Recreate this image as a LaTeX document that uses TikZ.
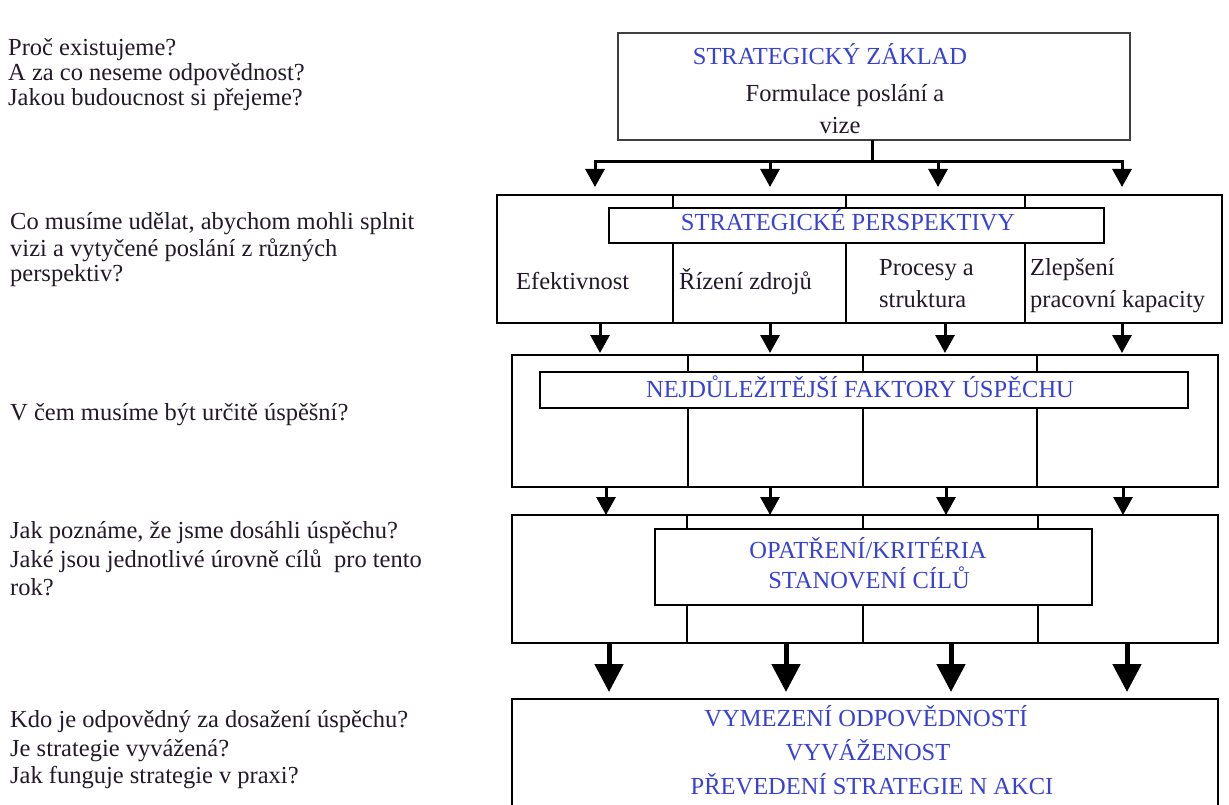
\documentclass[tikz,border=0pt]{standalone}
\usepackage{fontspec}
\setmainfont{Liberation Serif}
\usetikzlibrary{arrows.meta}
\definecolor{ink}{RGB}{35,25,40}
\definecolor{capblue}{RGB}{55,65,215}
\begin{document}
\begin{tikzpicture}[x=1pt,y=-1pt,
  q/.style={anchor=base west, inner sep=0pt, text=ink, font=\fontsize{24.5}{29}\selectfont},
  lbl/.style={anchor=base west, inner sep=0pt, text=ink, font=\fontsize{24.5}{29}\selectfont},
  lblc/.style={anchor=base, inner sep=0pt, text=ink, font=\fontsize{24.5}{29}\selectfont},
  ttl/.style={anchor=base, inner sep=0pt, text=capblue, font=\fontsize{24.5}{29}\selectfont},
  frame/.style={draw=black, line width=2pt, inner sep=0pt, outer sep=0pt, rectangle},
  divider/.style={draw=black, line width=2pt},
  conn/.style={draw=black, line width=3pt},
  arr/.style={conn, -{Triangle[length=18pt,width=19pt]}},
  bigarr/.style={draw=black, line width=5pt, -{Triangle[length=28pt,width=28pt]}},
]
\useasboundingbox[fill=white] (0,0) rectangle (1229,805);

% ---- questions on the left ----
\node[q] (q1a) at (8,56)  {Proč existujeme?};
\node[q] (q1b) at (8,81)  {A za co neseme odpovědnost?};
\node[q] (q1c) at (8,106) {Jakou budoucnost si přejeme?};

\node[q] (q2a) at (10,230) {Co musíme udělat, abychom mohli splnit};
\node[q] (q2b) at (10,256) {vizi a vytyčené poslání z různých};
\node[q] (q2c) at (10,281) {perspektiv?};

\node[q] (q3)  at (10,420) {V čem musíme být určitě úspěšní?};

\node[q] (q4a) at (10,538) {Jak poznáme, že jsme dosáhli úspěchu?};
\node[q] (q4b) at (10,567) {Jaké jsou jednotlivé úrovně cílů\ \ pro tento};
\node[q] (q4c) at (10,595) {rok?};

\node[q] (q5a) at (10,727) {Kdo je odpovědný za dosažení úspěchu?};
\node[q] (q5b) at (10,756) {Je strategie vyvážená?};
\node[q] (q5c) at (10,783) {Jak funguje strategie v praxi?};

% ---- level 1: strategic base ----
\node[frame, draw=black!75, line width=2.5pt, minimum width=512pt, minimum height=107pt] (b1) at (874,86.5) {};
\node[ttl]  (b1t) at (830,65)  {STRATEGICKÝ ZÁKLAD};
\node[lblc] (b1a) at (845,102) {Formulace poslání a};
\node[lblc] (b1b) at (840,134) {vize};

% ---- level 2: perspectives ----
\node[frame, minimum width=725pt, minimum height=128pt] (b2) at (859.5,259) {};
\node[frame, minimum width=495pt, minimum height=35pt] (b2h) at (856.5,225.5) {};
\node[ttl] (b2t) at (848,231) {STRATEGICKÉ PERSPEKTIVY};
\coordinate (d21) at (673,0);
\coordinate (d22) at (846,0);
\coordinate (d23) at (1025,0);
\foreach \d in {d21,d22,d23}{
  \draw[divider] (\d |- b2.north) -- (\d |- b2h.north);
  \draw[divider] (\d |- b2h.south) -- (\d |- b2.south);
}
\node[lbl] (p1)  at (516,289)  {Efektivnost};
\node[lbl] (p2)  at (679,289)  {Řízení zdrojů};
\node[lbl] (p3a) at (879,276)  {Procesy a};
\node[lbl] (p3b) at (879,307)  {struktura};
\node[lbl] (p4a) at (1030,276) {Zlepšení};
\node[lbl] (p4b) at (1030,307) {pracovní kapacity};

% ---- level 3: key success factors ----
\node[frame, minimum width=706pt, minimum height=132pt] (b3) at (865,421) {};
\node[frame, minimum width=648pt, minimum height=36pt] (b3h) at (864,390) {};
\node[ttl] (b3t) at (860,397) {NEJDŮLEŽITĚJŠÍ FAKTORY ÚSPĚCHU};
\coordinate (d31) at (688,0);
\coordinate (d32) at (863,0);
\coordinate (d33) at (1037,0);
\foreach \d in {d31,d32,d33}{
  \draw[divider] (\d |- b3.north) -- (\d |- b3h.north);
  \draw[divider] (\d |- b3h.south) -- (\d |- b3.south);
}

% ---- level 4: measures and targets ----
\node[frame, minimum width=706pt, minimum height=128pt] (b4) at (865,579) {};
\node[frame, minimum width=437pt, minimum height=76pt] (b4h) at (873.5,567) {};
\node[ttl] (b4t1) at (868,558) {OPATŘENÍ/KRITÉRIA};
\node[ttl] (b4t2) at (869,588) {STANOVENÍ CÍLŮ};
\coordinate (d41) at (687,0);
\coordinate (d42) at (863,0);
\coordinate (d43) at (1038,0);
\foreach \d in {d41,d42,d43}{
  \draw[divider] (\d |- b4.north) -- (\d |- b4h.north);
  \draw[divider] (\d |- b4h.south) -- (\d |- b4.south);
}

% ---- level 5: responsibility and action ----
\begin{scope}
\clip (0,0) rectangle (1229,805);
\node[frame, minimum width=706pt, minimum height=131pt] (b5) at (865,764.5) {};
\end{scope}
\node[ttl] (b5t1) at (866,726) {VYMEZENÍ ODPOVĚDNOSTÍ};
\node[ttl] (b5t2) at (868,760) {VYVÁŽENOST};
\node[ttl] (b5t3) at (872,794) {PŘEVEDENÍ STRATEGIE N AKCI};

% ---- connectors: level 1 -> level 2 ----
\coordinate (hub) at (872,162);
\coordinate (ha1) at (595,162);
\coordinate (ha2) at (770,162);
\coordinate (ha3) at (938,162);
\coordinate (ha4) at (1122,162);
\draw[conn] (b1.south -| hub) -- (hub);
\draw[conn, line cap=rect] (ha1) -- (ha4);
\foreach \c in {ha1,ha2,ha3,ha4}
  \draw[arr, shorten >=8pt] (\c) -- (\c |- b2.north);

% ---- connectors: level 2 -> level 3 ----
\coordinate (hb1) at (600,0);
\coordinate (hb2) at (770,0);
\coordinate (hb3) at (945,0);
\coordinate (hb4) at (1122,0);
\foreach \c in {hb1,hb2,hb3,hb4}
  \draw[arr, shorten >=2pt] (\c |- b2.south) -- (\c |- b3.north);

% ---- connectors: level 3 -> level 4 ----
\coordinate (hc1) at (606,0);
\coordinate (hc2) at (770,0);
\coordinate (hc3) at (946,0);
\coordinate (hc4) at (1123,0);
\foreach \c in {hc1,hc2,hc3,hc4}
  \draw[arr] (\c |- b3.south) -- (\c |- b4.north);

% ---- connectors: level 4 -> level 5 ----
\coordinate (hd1) at (609,0);
\coordinate (hd2) at (786,0);
\coordinate (hd3) at (951,0);
\coordinate (hd4) at (1127,0);
\foreach \c in {hd1,hd2,hd3,hd4}
  \draw[bigarr, shorten >=7pt] (\c |- b4.south) -- (\c |- b5.north);
\end{tikzpicture}
\end{document}
